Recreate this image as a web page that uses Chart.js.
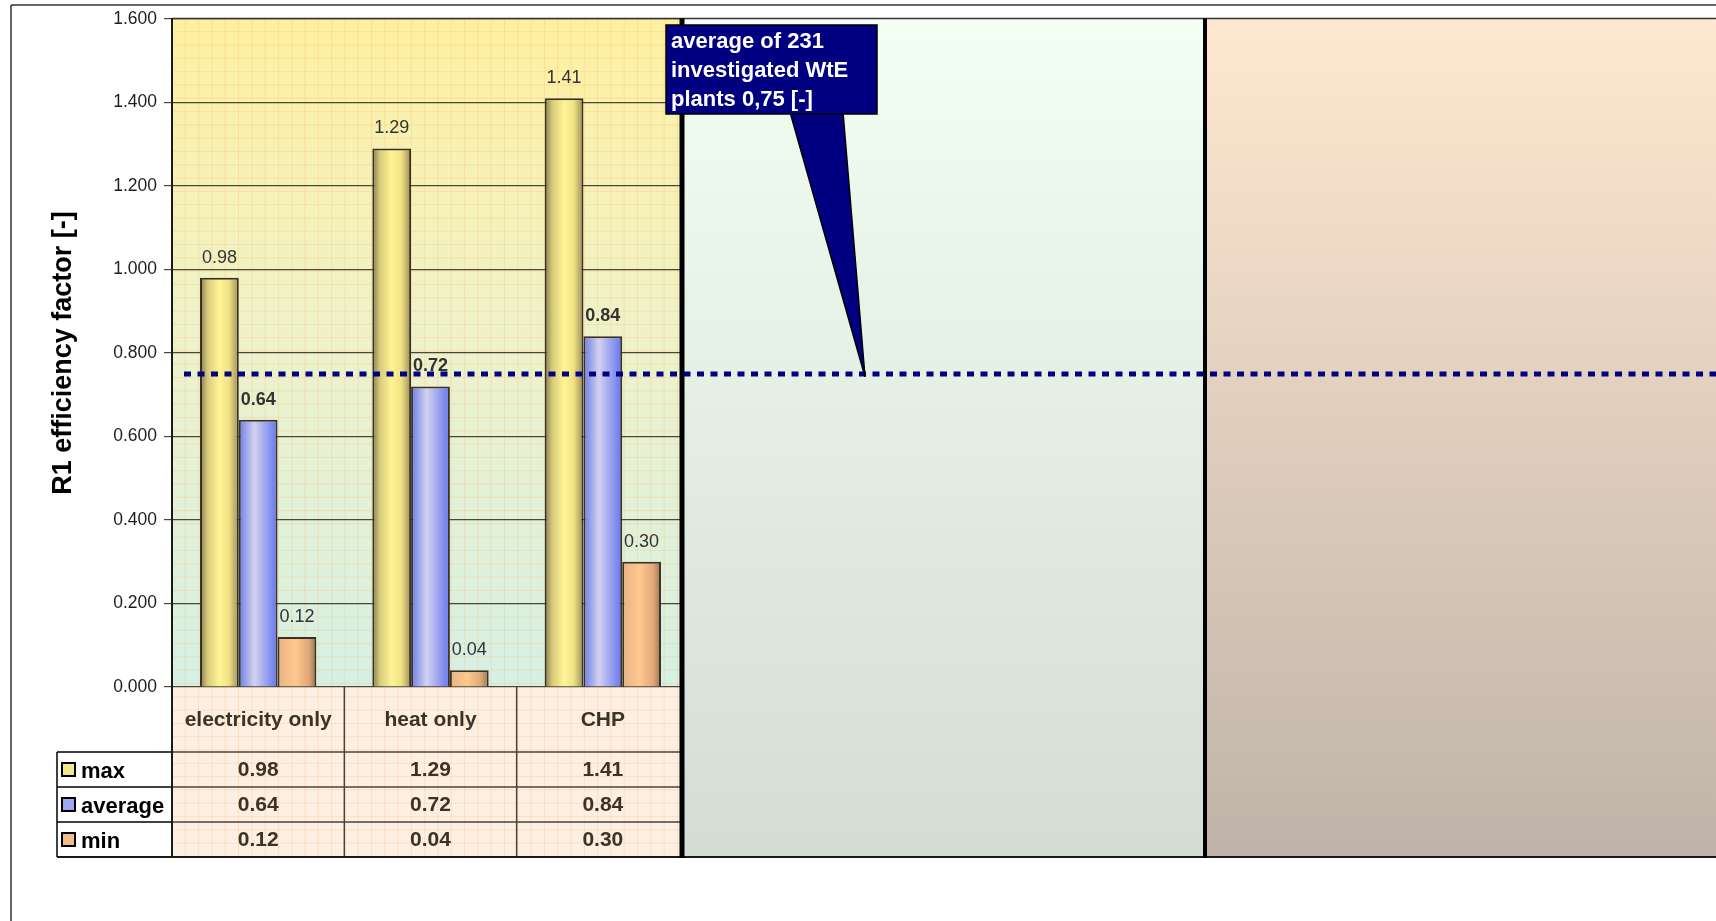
<!DOCTYPE html>
<html>
<head>
<meta charset="utf-8">
<title>R1 efficiency factor</title>
<script src="https://cdn.jsdelivr.net/npm/chart.js@4.4.1/dist/chart.umd.min.js"></script>
<style>
  html, body { margin: 0; padding: 0; background: #fff; }
  #wrap { position: relative; width: 1716px; height: 921px; }
</style>
</head>
<body>
<div id="wrap"><canvas id="r1Chart"></canvas></div>
<script>
// Data
const categories = ['electricity only', 'heat only', 'CHP'];
const seriesNames = ['max', 'average', 'min'];
const maxValues = [0.98, 1.29, 1.41];
const avgValues = [0.64, 0.72, 0.84];
const minValues = [0.12, 0.04, 0.30];
const yTicks = [0, 0.2, 0.4, 0.6, 0.8, 1.0, 1.2, 1.4, 1.6];
const averageLine = 0.75;
const calloutLines = ['average of 231', 'investigated WtE', 'plants 0,75 [-]'];

const seriesValues = [maxValues, avgValues, minValues];

// Layout / style constants
const FONT = '"Liberation Sans", Arial, Helvetica, sans-serif';
const CAT_PCT = 0.675;
const PANEL_TOP = 18.5;
const PANEL1_RIGHT = 682;
const PANEL2_RIGHT = 1205;
const TABLE_BOTTOM = 857;
const CAT_ROW_H = 65;
const ROW_H = 35;
const LEGEND_LEFT = 57;
const TEXT_DARK = '#3b3326';
const NAVY = '#000080';

// horizontal "cylinder" shading per series, left edge -> right edge
const seriesStops = [
    [[0, '#847a4c'], [0.2, '#d8cc7c'], [0.5, '#fff494'], [0.75, '#f0e284'], [1, '#9a8c58']],
    [[0, '#6a7ce8'], [0.4, '#d2d2ee'], [1, '#6474f0']],
    [[0, '#e8b282'], [0.45, '#ffc890'], [0.8, '#e0a878'], [1, '#9a7452']]
];
const swatchColors = ['#f3e98c', '#9ea8f0', '#f2bc88'];

Chart.defaults.font.family = FONT;
Chart.defaults.color = '#1e1e1e';

function barFill(context) {
    const stops = seriesStops[context.datasetIndex];
    const chart = context.chart;
    const xs = chart.scales.x;
    if (context.type !== 'data' || !xs || !xs.width) return stops[1][1];
    const catW = xs.width / categories.length;
    const barW = catW * CAT_PCT / seriesNames.length;
    const left = xs.getPixelForValue(context.dataIndex) - catW * CAT_PCT / 2 + context.datasetIndex * barW;
    const g = chart.ctx.createLinearGradient(left, 0, left + barW, 0);
    stops.forEach(s => g.addColorStop(s[0], s[1]));
    return g;
}

function vGradient(ctx, y0, y1, stops) {
    const g = ctx.createLinearGradient(0, y0, 0, y1);
    stops.forEach(s => g.addColorStop(s[0], s[1]));
    return g;
}

function line(ctx, x0, y0, x1, y1) {
    ctx.beginPath();
    ctx.moveTo(x0, y0);
    ctx.lineTo(x1, y1);
    ctx.stroke();
}

const overlay = {
    id: 'overlay',
    beforeDraw(chart) {
        const { ctx, chartArea: a } = chart;
        ctx.save();
        ctx.fillStyle = '#fff';
        ctx.fillRect(0, 0, chart.width, chart.height);

        // panel 1: plot background and table background
        ctx.fillStyle = vGradient(ctx, a.top, a.bottom, [[0, '#fef0a0'], [0.45, '#eff2c8'], [1, '#d6f0e4']]);
        ctx.fillRect(a.left, PANEL_TOP, PANEL1_RIGHT - a.left, a.bottom - PANEL_TOP);
        ctx.fillStyle = '#fdefe2';
        ctx.fillRect(a.left, a.bottom, PANEL1_RIGHT - a.left, TABLE_BOTTOM - a.bottom);

        // faint paper grid
        ctx.strokeStyle = 'rgba(250, 170, 100, 0.22)';
        ctx.lineWidth = 1;
        for (let x = a.left + 13.3; x < PANEL1_RIGHT; x += 13.3) line(ctx, x, PANEL_TOP, x, TABLE_BOTTOM);
        for (let y = PANEL_TOP + 13.3; y < TABLE_BOTTOM; y += 13.3) line(ctx, a.left, y, PANEL1_RIGHT, y);

        // legend cells are white
        ctx.fillStyle = '#fff';
        ctx.fillRect(LEGEND_LEFT, a.bottom + CAT_ROW_H, a.left - LEGEND_LEFT, ROW_H * 3);
        ctx.restore();
    },
    afterDatasetsDraw(chart) {
        const { ctx, chartArea: a, scales: { x: xs, y: ys } } = chart;
        const W = chart.width;
        ctx.save();

        // value labels above bars
        ctx.textAlign = 'center';
        ctx.textBaseline = 'alphabetic';
        ctx.fillStyle = '#333';
        chart.data.datasets.forEach((ds, di) => {
            ctx.font = (di === 1 ? 'bold ' : '') + '18px ' + FONT;
            chart.getDatasetMeta(di).data.forEach((bar, i) => {
                ctx.fillText(ds.data[i].toFixed(2), bar.x, bar.y - 15);
            });
        });

        // panels 2 and 3
        ctx.fillStyle = vGradient(ctx, PANEL_TOP, TABLE_BOTTOM, [[0, '#f2fff2'], [1, '#d5dcd4']]);
        ctx.fillRect(PANEL1_RIGHT, PANEL_TOP, PANEL2_RIGHT - PANEL1_RIGHT, TABLE_BOTTOM - PANEL_TOP);
        ctx.fillStyle = vGradient(ctx, PANEL_TOP, TABLE_BOTTOM, [[0, '#ffe8d0'], [1, '#bfb3a9']]);
        ctx.fillRect(PANEL2_RIGHT, PANEL_TOP, W - PANEL2_RIGHT, TABLE_BOTTOM - PANEL_TOP);

        // data table
        const catW = xs.width / categories.length;
        const rowTop = a.bottom + CAT_ROW_H;
        ctx.strokeStyle = '#4a4236';
        ctx.lineWidth = 1.5;
        for (let i = 1; i < categories.length; i++) {
            line(ctx, a.left + i * catW, a.bottom, a.left + i * catW, TABLE_BOTTOM);
        }
        for (let r = 0; r < seriesNames.length; r++) {
            line(ctx, a.left, rowTop + r * ROW_H, PANEL1_RIGHT, rowTop + r * ROW_H);
        }
        ctx.fillStyle = TEXT_DARK;
        ctx.textBaseline = 'middle';
        ctx.font = 'bold 21px ' + FONT;
        categories.forEach((c, i) => {
            const cx = xs.getPixelForValue(i);
            ctx.fillText(c, cx, a.bottom + CAT_ROW_H / 2 + 1);
            seriesValues.forEach((vals, r) => {
                ctx.fillText(vals[i].toFixed(2), cx, rowTop + r * ROW_H + ROW_H / 2 + 1);
            });
        });

        // legend column
        ctx.strokeStyle = '#000';
        ctx.lineWidth = 1.5;
        for (let r = 0; r <= seriesNames.length; r++) {
            line(ctx, LEGEND_LEFT, rowTop + r * ROW_H, a.left, rowTop + r * ROW_H);
        }
        line(ctx, LEGEND_LEFT, rowTop, LEGEND_LEFT, TABLE_BOTTOM);
        ctx.textAlign = 'left';
        ctx.font = 'bold 22px ' + FONT;
        seriesNames.forEach((name, r) => {
            const cy = rowTop + r * ROW_H + ROW_H / 2;
            ctx.fillStyle = swatchColors[r];
            ctx.fillRect(62, cy - 6.5, 13, 13);
            ctx.lineWidth = 2;
            ctx.strokeRect(62, cy - 6.5, 13, 13);
            ctx.fillStyle = '#000';
            ctx.fillText(name, 81, cy + 2);
        });

        // frames
        ctx.strokeStyle = '#333';
        ctx.lineWidth = 1.5;
        line(ctx, 11, 5, W, 5);
        line(ctx, 11, 5, 11, chart.height);
        line(ctx, a.left, PANEL_TOP, W, PANEL_TOP);
        ctx.strokeStyle = '#1a1a1a';
        ctx.lineWidth = 2;
        line(ctx, LEGEND_LEFT, TABLE_BOTTOM, W, TABLE_BOTTOM);
        line(ctx, a.left, PANEL_TOP, a.left, TABLE_BOTTOM);
        ctx.strokeStyle = '#000';
        ctx.lineWidth = 5;
        line(ctx, PANEL1_RIGHT, PANEL_TOP, PANEL1_RIGHT, TABLE_BOTTOM + 1);
        ctx.lineWidth = 4;
        line(ctx, PANEL2_RIGHT, PANEL_TOP, PANEL2_RIGHT, TABLE_BOTTOM + 1);

        // average of all plants
        const yAvg = ys.getPixelForValue(averageLine);
        ctx.strokeStyle = NAVY;
        ctx.lineWidth = 5;
        ctx.setLineDash([7, 6.5]);
        line(ctx, 184, yAvg, W, yAvg);
        ctx.setLineDash([]);

        // callout
        ctx.fillStyle = NAVY;
        ctx.strokeStyle = '#000';
        ctx.lineWidth = 1.5;
        ctx.beginPath();
        ctx.moveTo(790, 112);
        ctx.lineTo(865, yAvg + 3);
        ctx.lineTo(843, 112);
        ctx.closePath();
        ctx.fill();
        ctx.stroke();
        ctx.fillRect(666, 25, 211, 89);
        ctx.strokeRect(666, 25, 211, 89);
        ctx.fillStyle = '#fff';
        ctx.font = 'bold 22px ' + FONT;
        ctx.textBaseline = 'alphabetic';
        calloutLines.forEach((t, i) => ctx.fillText(t, 671, 48 + i * 29));

        ctx.restore();
    }
};

new Chart(document.getElementById('r1Chart'), {
    type: 'bar',
    data: {
        labels: categories,
        datasets: seriesNames.map((name, i) => ({
            label: name,
            data: seriesValues[i],
            backgroundColor: barFill,
            borderColor: '#3a3226',
            borderWidth: 2,
            categoryPercentage: CAT_PCT,
            barPercentage: 1
        }))
    },
    options: {
        responsive: true,
        maintainAspectRatio: false,
        devicePixelRatio: 1,
        animation: false,
        layout: {
            padding: { left: 0, top: 19, right: 1027, bottom: 234 }
        },
        plugins: {
            legend: { display: false },
            tooltip: { enabled: false }
        },
        scales: {
            x: { display: false },
            y: {
                min: 0,
                max: 1.6,
                afterBuildTicks: scale => { scale.ticks = yTicks.map(v => ({ value: v })); },
                afterFit: scale => { scale.width = 172; },
                ticks: {
                    callback: v => Number(v).toFixed(3),
                    font: { size: 17.5 },
                    color: '#1e1e1e',
                    padding: 7
                },
                grid: { color: '#4d4538', lineWidth: 1.2, tickLength: 8 },
                border: { color: '#000', width: 2 },
                title: {
                    display: true,
                    text: 'R1 efficiency factor [-]',
                    font: { size: 27, weight: 'bold' },
                    color: '#000',
                    padding: { top: 47, bottom: 0 }
                }
            }
        }
    },
    plugins: [overlay]
});
</script>
</body>
</html>
